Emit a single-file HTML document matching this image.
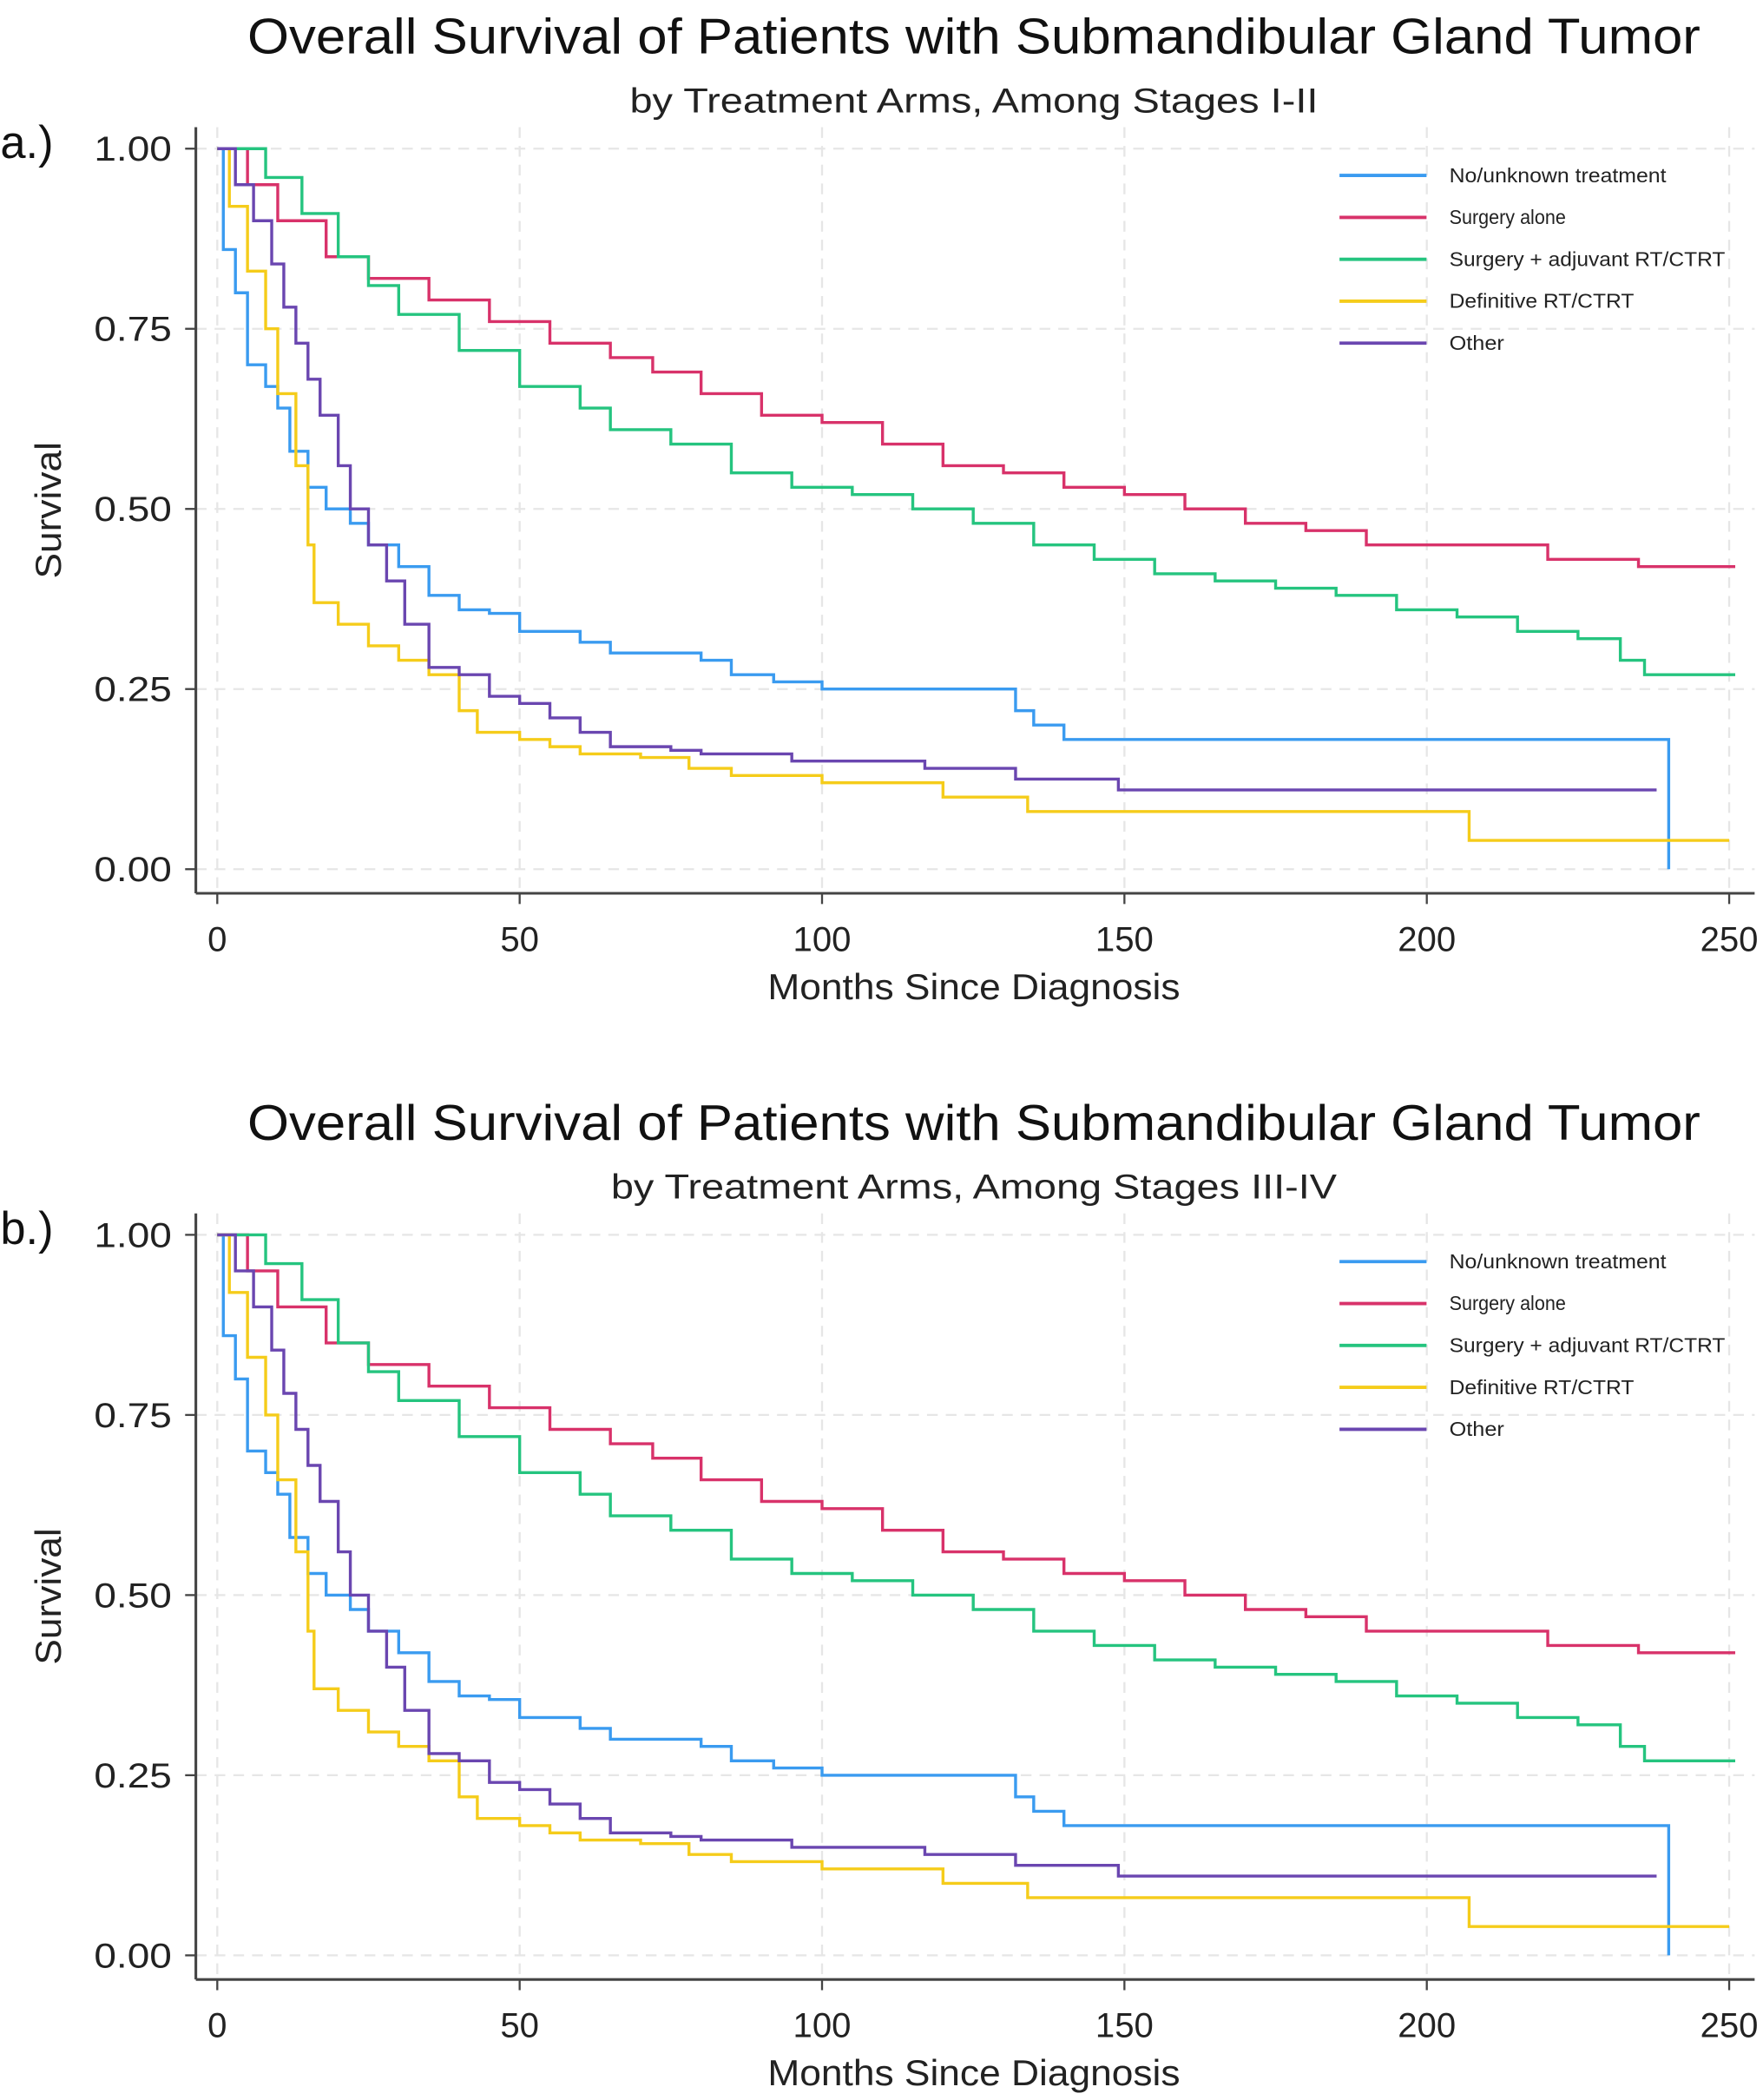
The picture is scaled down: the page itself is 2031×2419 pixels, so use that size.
<!DOCTYPE html>
<html><head><meta charset="utf-8"><style>
html,body{margin:0;padding:0;background:#fff;}
svg{display:block;font-family:"Liberation Sans",Arial,sans-serif;}
</style></head><body>
<svg id="chart" width="2031" height="2419" viewBox="0 0 1316 1568"></svg>
<script>
const months = [0,50,100,150,200,250];
const survTicks = [0,0.25,0.5,0.75,1.0];
const tickLabelsY = ["0.00","0.25","0.50","0.75","1.00"];
const seriesNames = ["No/unknown treatment","Surgery alone","Surgery + adjuvant RT/CTRT","Definitive RT/CTRT","Other"];
const seriesColors = ["#3a9bf0","#d8326a","#25c47f","#f5cc1a","#6a46b0"];
const noneT = [0,1,1,3,5,8,10,12,15,18,22,25,30,35,40,45,50,60,65,80,85,92,100,117,132,135,140,147,240];
const noneS = [1,0.92,0.86,0.80,0.70,0.67,0.64,0.58,0.53,0.50,0.48,0.45,0.42,0.38,0.36,0.355,0.33,0.315,0.30,0.29,0.27,0.26,0.25,0.25,0.22,0.20,0.18,0.18,0];
const surgT = [0,5,10,18,25,35,45,55,65,72,80,90,100,110,120,130,140,150,160,170,180,190,220,235,251];
const surgS = [1,0.95,0.90,0.85,0.82,0.79,0.76,0.73,0.71,0.69,0.66,0.63,0.62,0.59,0.56,0.55,0.53,0.52,0.50,0.48,0.47,0.45,0.43,0.42,0.42];
const adjT = [0,3,8,14,20,25,30,40,50,60,65,75,85,95,105,115,125,135,145,155,165,175,185,195,205,215,225,232,236,251];
const adjS = [1,1,0.96,0.91,0.85,0.81,0.77,0.72,0.67,0.64,0.61,0.59,0.55,0.53,0.52,0.50,0.48,0.45,0.43,0.41,0.40,0.39,0.38,0.36,0.35,0.33,0.32,0.29,0.27,0.27];
const defT = [0,2,5,8,10,13,15,16,20,25,30,35,40,43,50,55,60,70,78,85,100,120,134,207,250];
const defS = [1,0.92,0.83,0.75,0.66,0.56,0.45,0.37,0.34,0.31,0.29,0.27,0.22,0.19,0.18,0.17,0.16,0.155,0.14,0.13,0.12,0.10,0.08,0.04,0.04];
const othT = [0,3,6,9,11,13,15,17,20,22,25,28,31,35,40,45,50,55,60,65,75,80,95,117,132,149,238];
const othS = [1,0.95,0.90,0.84,0.78,0.73,0.68,0.63,0.56,0.50,0.45,0.40,0.34,0.28,0.27,0.24,0.23,0.21,0.19,0.17,0.165,0.16,0.15,0.14,0.125,0.11,0.11];
const panels = [
 {label:"a.)",sub:"by Treatment Arms, Among Stages I-II",subW:514,dy:0,name:"panel-a"},
 {label:"b.)",sub:"by Treatment Arms, Among Stages III-IV",subW:542,dy:811,name:"panel-b"}
];
const allT=[noneT,surgT,adjT,defT,othT], allS=[noneS,surgS,adjS,defS,othS];
const legendW=[162,87,206,138,41];
const NS="http://www.w3.org/2000/svg";
const svg=document.getElementById('chart');
function mk(tag,attrs,parent,text){const e=document.createElementNS(NS,tag);for(const k in attrs)e.setAttribute(k,attrs[k]);if(text!==undefined)e.textContent=text;parent.appendChild(e);return e;}
panels.forEach(p=>{
  const g=mk('g',{},svg);
  
  
  const xs=m=>162+m*4.516, ys=s=>p.dy+649-s*538;
  let t=mk('text',{x:727,y:p.dy+40,'font-size':37,'text-anchor':'middle',fill:'#111',textLength:1085,lengthAdjust:'spacingAndGlyphs'},g,"Overall Survival of Patients with Submandibular Gland Tumor");
  
  
  t=mk('text',{x:727,y:p.dy+84,'font-size':26,'text-anchor':'middle',fill:'#222',textLength:p.subW,lengthAdjust:'spacingAndGlyphs'},g,p.sub);
  
  
  t=mk('text',{x:0,y:p.dy+118,'font-size':34,fill:'#111'},g,p.label);
  
  
  survTicks.forEach((s,i)=>{
    const l=mk('line',{x1:146,x2:1310,y1:ys(s),y2:ys(s),stroke:'#e6e6e6','stroke-width':1.5,'stroke-dasharray':'8,6'},g);
    
    
    mk('line',{x1:138,x2:146,y1:ys(s),y2:ys(s),stroke:'#444','stroke-width':1.5},g);
    const tl=mk('text',{x:128,y:ys(s)+9,'font-size':26,'text-anchor':'end',fill:'#222',textLength:58,lengthAdjust:'spacingAndGlyphs'},g,tickLabelsY[i]);
    
    
  });
  months.forEach(m=>{
    const l=mk('line',{x1:xs(m),x2:xs(m),y1:p.dy+95,y2:p.dy+667,stroke:'#e6e6e6','stroke-width':1.5,'stroke-dasharray':'8,6'},g);
    
    
    mk('line',{x1:xs(m),x2:xs(m),y1:p.dy+667,y2:p.dy+675,stroke:'#444','stroke-width':1.5},g);
    const tl=mk('text',{x:xs(m),y:p.dy+710,'font-size':26,'text-anchor':'middle',fill:'#222'},g,String(m));
    
    
  });
  let a=mk('line',{x1:146,x2:146,y1:p.dy+95,y2:p.dy+667,stroke:'#444','stroke-width':2},g);
  
  
  a=mk('line',{x1:146,x2:1310,y1:p.dy+667,y2:p.dy+667,stroke:'#444','stroke-width':2},g);
  
  
  t=mk('text',{x:727,y:p.dy+746,'font-size':27,'text-anchor':'middle',fill:'#222',textLength:308,lengthAdjust:'spacingAndGlyphs'},g,"Months Since Diagnosis");
  
  
  t=mk('text',{x:0,y:0,'font-size':27,'text-anchor':'middle',fill:'#222',transform:`translate(45,${p.dy+381}) rotate(-90)`,textLength:102,lengthAdjust:'spacingAndGlyphs'},g,"Survival");
  
  
  allT.forEach((T,k)=>{
    const S=allS[k];
    let d=`M${xs(T[0])},${ys(S[0])}`;
    for(let i=1;i<T.length;i++){d+=` H${xs(T[i])} V${ys(S[i])}`;}
    const path=mk('path',{d:d,fill:'none',stroke:seriesColors[k],'stroke-width':2.2},g);
    
    
  });
  seriesNames.forEach((n,k)=>{
    const y=p.dy+131+k*31.3;
    const ll=mk('line',{x1:1000,x2:1065,y1:y,y2:y,stroke:seriesColors[k],'stroke-width':2.5},g);
    
    
    const lt=mk('text',{x:1082,y:y+5,'font-size':15,fill:'#222',textLength:legendW[k],lengthAdjust:'spacingAndGlyphs'},g,n);
    
    
  });
});
</script>
</body></html>
